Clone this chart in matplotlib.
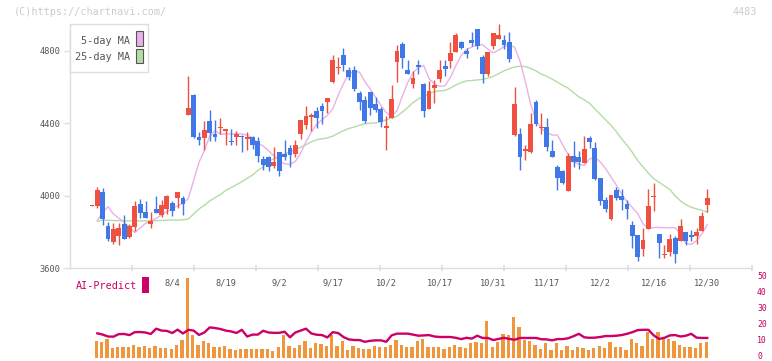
import matplotlib
matplotlib.use("Agg")
import matplotlib.pyplot as plt
from matplotlib.patches import Rectangle
import numpy as np

# ---------------- data ----------------
date_labels = ["8/4", "8/19", "9/2", "9/17", "10/2", "10/17", "10/31", "11/17", "12/2", "12/16", "12/30"]
date_label_idx = [15, 25, 35, 45, 55, 65, 75, 85, 95, 105, 115]

opens = [3946, 3946, 4021, 3834, 3745, 3778, 3845, 3775, 3830, 3955,
         3911, 3846, 3927, 3896, 3929, 3961, 3990, 3988, 4448, 4559,
         4325, 4320, 4413, 4342, 4375, 4362, 4303, 4323, 4331, 4316,
         4327, 4305, 4203, 4215, 4167, 4242, 4231, 4264, 4231, 4340,
         4393, 4437, 4470, 4496, 4520, 4629, 4705, 4778, 4695, 4695,
         4568, 4529, 4574, 4506, 4478, 4378, 4430, 4741, 4839, 4695,
         4618, 4721, 4618, 4478, 4596, 4645, 4717, 4745, 4794, 4850,
         4800, 4861, 4922, 4767, 4671, 4828, 4868, 4861, 4850, 4336,
         4342, 4250, 4242, 4518, 4377, 4380, 4248, 4161, 4139, 4027,
         4220, 4216, 4183, 4321, 4263, 4098, 3977, 3874, 4032, 3999,
         3955, 3839, 3784, 3708, 3815, 3996, 3789, 3675, 3692, 3767,
         3753, 3800, 3784, 3778, 3808, 3949]
highs = [3949, 4050, 4043, 3854, 3850, 3848, 3894, 3847, 3972, 3983,
         3972, 3912, 3999, 3977, 4005, 3972, 4021, 3999, 4662, 4564,
         4353, 4413, 4474, 4419, 4432, 4370, 4368, 4358, 4335, 4353,
         4330, 4323, 4220, 4218, 4272, 4245, 4308, 4281, 4308, 4419,
         4495, 4456, 4489, 4514, 4539, 4778, 4765, 4815, 4713, 4717,
         4581, 4551, 4576, 4544, 4493, 4441, 4612, 4833, 4848, 4750,
         4690, 4750, 4623, 4634, 4640, 4750, 4750, 4848, 4899, 4855,
         4817, 4905, 4922, 4778, 4794, 4899, 4949, 4888, 4905, 4601,
         4375, 4281, 4458, 4529, 4458, 4430, 4308, 4170, 4142, 4235,
         4302, 4250, 4330, 4332, 4297, 4100, 3995, 4005, 4047, 4036,
         3977, 3863, 3786, 3825, 4039, 4071, 3792, 3729, 3788, 3778,
         3872, 3802, 3812, 3824, 3909, 4039]
lows = [3946, 3933, 3841, 3751, 3734, 3730, 3762, 3770, 3806, 3880,
        3878, 3824, 3903, 3886, 3900, 3891, 3935, 3896, 4448, 4320,
        4283, 4253, 4305, 4305, 4342, 4281, 4281, 4281, 4244, 4253,
        4261, 4189, 4143, 4139, 4156, 4111, 4198, 4161, 4216, 4316,
        4371, 4358, 4376, 4397, 4459, 4625, 4673, 4691, 4640, 4577,
        4476, 4404, 4447, 4461, 4382, 4253, 4430, 4630, 4708, 4675,
        4596, 4671, 4437, 4478, 4514, 4629, 4664, 4708, 4794, 4812,
        4760, 4828, 4811, 4622, 4662, 4811, 4868, 4811, 4739, 4329,
        4143, 4198, 4237, 4386, 4342, 4248, 4216, 4032, 4065, 4025,
        4161, 4150, 4179, 4263, 4087, 3951, 3913, 3867, 3977, 3922,
        3874, 3710, 3642, 3668, 3815, 3918, 3655, 3659, 3668, 3628,
        3753, 3726, 3751, 3734, 3808, 3913]
closes = [3949, 4032, 3874, 3762, 3817, 3823, 3764, 3834, 3946, 3905,
          3878, 3861, 3905, 3949, 3999, 3918, 4021, 3955, 4487, 4325,
          4308, 4364, 4349, 4323, 4380, 4366, 4299, 4342, 4323, 4327,
          4279, 4222, 4172, 4161, 4187, 4139, 4216, 4227, 4279, 4419,
          4439, 4446, 4432, 4470, 4539, 4750, 4710, 4724, 4655, 4592,
          4520, 4415, 4487, 4474, 4410, 4383, 4535, 4800, 4763, 4675,
          4651, 4713, 4470, 4579, 4612, 4695, 4702, 4791, 4888, 4817,
          4783, 4844, 4829, 4673, 4794, 4899, 4888, 4835, 4756, 4507,
          4216, 4256, 4397, 4397, 4381, 4270, 4216, 4100, 4072, 4220,
          4189, 4189, 4259, 4297, 4093, 3973, 3929, 4005, 3986, 3977,
          3929, 3780, 3664, 3756, 3943, 4001, 3741, 3679, 3762, 3681,
          3834, 3753, 3775, 3800, 3889, 3988]

nan = float("nan")
ma5 = [nan,
       3865, 3910, 3940, 3900, 3877, 3855, 3825, 3798, 3823, 3848,
       3862, 3875, 3896, 3913, 3930, 3945, 3959, 3985, 4085, 4185,
       4250, 4330, 4360, 4340, 4342, 4342, 4342, 4342, 4335, 4320,
       4292, 4275, 4248, 4222, 4193, 4177, 4174, 4190, 4235, 4300,
       4352, 4395, 4420, 4445, 4480, 4555, 4620, 4672, 4690, 4683,
       4632, 4590, 4543, 4500, 4460, 4440, 4470, 4550, 4625, 4680,
       4708, 4720, 4648, 4618, 4604, 4608, 4655, 4718, 4775, 4808,
       4822, 4832, 4835, 4810, 4790, 4805, 4825, 4833, 4820, 4745,
       4630, 4505, 4418, 4372, 4350, 4336, 4336, 4280, 4228, 4188,
       4175, 4168, 4203, 4213, 4188, 4150, 4105, 4060, 4010, 3968,
       3936, 3902, 3845, 3821, 3825, 3826, 3824, 3824, 3824, 3790,
       3737, 3732, 3752, 3790, 3841]
ma25 = [nan,
        3860, 3866, 3865, 3864, 3863, 3862, 3862, 3862, 3862, 3862,
        3862, 3863, 3864, 3866, 3867, 3866, 3868, 3872, 3900, 3928,
        3948, 3972, 3990, 4007, 4030, 4045, 4062, 4078, 4097, 4115,
        4140, 4160, 4190, 4205, 4220, 4230, 4245, 4255, 4268, 4283,
        4298, 4310, 4315, 4320, 4330, 4345, 4360, 4372, 4380, 4390,
        4398, 4401, 4403, 4410, 4420, 4430, 4440, 4462, 4488, 4515,
        4535, 4550, 4565, 4575, 4580, 4583, 4595, 4612, 4625, 4635,
        4637, 4640, 4643, 4650, 4660, 4675, 4690, 4702, 4712, 4716,
        4714, 4704, 4690, 4672, 4660, 4645, 4628, 4610, 4595, 4570,
        4547, 4530, 4512, 4480, 4450, 4420, 4390, 4355, 4315, 4280,
        4240, 4195, 4160, 4125, 4095, 4075, 4055, 4035, 4000, 3972,
        3952, 3937, 3928, 3920, 3910]
volume = [nan,
          10.5, 9.9, 11.8, 6.1, 6.6, 6.6, 6.6, 7.8, 6.6, 7.2,
          5.9, 7.2, 5.9, 5.9, 5.3, 7.8, 10.9, 49.7, 14.1, 7.8,
          10.3, 9.1, 6.6, 6.6, 7.2, 5.3, 4.7, 5.3, 5.3, 5.3,
          5.3, 5.3, 5.3, 4.1, 6.6, 14.1, 7.2, 5.9, 7.8, 10.3,
          5.9, 9.1, 8.5, 7.2, 14.1, 7.2, 10.3, 4.7, 7.2, 5.9,
          5.3, 5.3, 7.2, 6.6, 6.6, 8.1, 10.9, 7.8, 7.0, 7.0,
          10.3, 11.5, 6.6, 6.6, 6.6, 5.3, 6.6, 7.8, 6.6, 5.9,
          9.1, 9.7, 9.1, 23.1, 6.6, 9.7, 14.7, 14.3, 25.4, 19.1,
          10.9, 10.3, 7.8, 5.3, 9.1, 4.7, 9.1, 4.7, 7.2, 4.7,
          6.6, 5.9, 4.7, 5.9, 7.2, 5.9, 9.7, 6.6, 6.6, 4.7,
          12.0, 9.1, 7.2, 16.0, 11.5, 16.0, 12.0, 12.0, 10.3, 7.8,
          6.6, 6.6, 5.9, 9.1, 9.7]
ai_predict = [nan,
              15.3, 14.5, 13.3, 13.2, 14.8, 14.9, 14.2, 16.0, 16.1, 15.8,
              14.9, 18.2, 17.0, 16.8, 15.5, 17.6, 15.2, 17.5, 17.0, 14.3,
              15.8, 19.0, 18.6, 18.0, 17.0, 16.5, 15.5, 17.5, 13.3, 14.5,
              14.5, 16.9, 15.8, 15.6, 15.6, 16.3, 12.8, 15.8, 17.0, 18.2,
              15.2, 14.4, 14.2, 12.7, 16.0, 15.5, 13.0, 11.5, 11.1, 11.1,
              10.0, 10.6, 10.9, 10.9, 10.0, 14.0, 15.1, 15.1, 15.1, 14.5,
              13.8, 14.0, 14.2, 13.3, 13.0, 13.0, 13.0, 12.5, 11.7, 12.5,
              12.0, 13.8, 12.4, 12.4, 11.1, 11.8, 12.5, 11.8, 11.3, 12.4,
              12.4, 12.4, 12.4, 11.6, 11.5, 10.9, 11.7, 11.7, 12.2, 13.5,
              15.0, 12.8, 12.5, 12.6, 13.0, 13.6, 13.6, 13.8, 14.2, 15.0,
              16.0, 17.3, 17.5, 17.5, 14.0, 11.8, 12.5, 14.0, 14.2, 13.3,
              13.8, 15.0, 12.6, 12.4, 12.4]
price_ticks = [3600, 4000, 4400, 4800]
ai_ticks = [0, 10, 20, 30, 40, 50]

# ---------------- styling ----------------
W, H, DPI = 772, 361, 100
UP, DOWN = "#F05040", "#4078E8"
MA5_C, MA25_C = "#E8B2E8", "#B4DCA6"
VOL_C, AI_C = "#F0963C", "#CC0066"
AXC, TXT = "#DDDDDD", "#555555"
MONO = "DejaVu Sans Mono"

def fx(px):
    return px / W

def fy(py):
    return 1 - py / H

fig = plt.figure(figsize=(W / DPI, H / DPI), dpi=DPI)
fig.patch.set_facecolor("white")

# price panel pixel geometry
L, R = 70, 752
TOP, BOT = 24, 268.3
px_per_yen = (268.3 - 51) / 1200.0
ax = fig.add_axes([fx(L), fy(BOT), fx(R) - fx(L), fy(TOP) - fy(BOT)])
ymax = 4800 + (51 - TOP) / px_per_yen
ax.set_ylim(3600, ymax)
step = 5.35
x_first = 92
xlim = ((L - x_first) / step, (R - x_first) / step)
ax.set_xlim(*xlim)

idx = np.arange(len(opens))
o = np.array(opens, float); c = np.array(closes, float)
h = np.array(highs, float); lo = np.array(lows, float)
cols = [UP if cc >= oo else DOWN for oo, cc in zip(o, c)]

ax.plot(idx, ma25, color=MA25_C, lw=1.0, zorder=2)
ax.plot(idx, ma5, color=MA5_C, lw=1.0, zorder=2)

ax.vlines(idx, lo, h, colors=cols, lw=1.0, zorder=3, clip_on=False)
minh = 1.2 / px_per_yen
body = np.abs(c - o)
hb = np.maximum(body, minh)
bottom = np.minimum(o, c) - (hb - body) / 2
ax.bar(idx, hb, bottom=bottom, width=0.9, color=cols, lw=0, zorder=4, clip_on=False)

for s in ["top", "right"]:
    ax.spines[s].set_visible(False)
for s in ["left", "bottom"]:
    ax.spines[s].set_color(AXC)
    ax.spines[s].set_linewidth(1.0)
ax.set_yticks(price_ticks)
ax.set_yticklabels([str(t) for t in price_ticks], fontfamily=MONO)
ax.tick_params(axis="y", length=4, color=AXC, width=1, labelsize=6.2, labelcolor=TXT, pad=3)

major = np.linspace(xlim[0], xlim[1], 12)[1:]
ax.set_xticks(major)
ax.set_xticklabels([])
ax.tick_params(axis="x", which="major", length=5, color=AXC, width=1.2, direction="inout")
ax.set_xticks(date_label_idx, minor=True)
ax.set_xticklabels(date_labels, minor=True, fontfamily=MONO)
ax.tick_params(axis="x", which="minor", length=0, labelsize=6.2, labelcolor=TXT, pad=7.5)
ax.set_facecolor("none")

# AI-Predict panel
ZERO_Y, FIFTY_Y = 357.8, 277.8
unit_px = (ZERO_Y - FIFTY_Y) / 50.0
ax2 = fig.add_axes([fx(L), fy(ZERO_Y), fx(R) - fx(L), fy(FIFTY_Y) - fy(ZERO_Y)])
ax2.set_xlim(*xlim)
ax2.set_ylim(0, 50)
ax2.set_facecolor("none")
for s in ax2.spines.values():
    s.set_visible(False)
ax2.bar(idx - 0.2, volume, width=0.62, color=VOL_C, lw=0, zorder=2)
ax2.plot(idx, ai_predict, color=AI_C, lw=1.7, zorder=3)
ax2.set_xticks([])
ax2.set_yticks([])
# right-hand scale labels, nudged up a little so "0" stays inside the canvas
for t in ai_ticks:
    fig.text(fx(757), fy(ZERO_Y - t * unit_px - 1.2), str(t), ha="left", va="center",
             fontsize=5.9, fontfamily=MONO, color="#C00060")

# legend box (drawn in figure pixels)
fig.add_artist(Rectangle((fx(70.3), fy(71.5)), fx(148) - fx(70.3), fy(24) - fy(71.5),
                         transform=fig.transFigure, facecolor="white", edgecolor=AXC, lw=1.0, zorder=5))
for label, col, yc, (y0, y1) in [("5-day MA", MA5_C, 40.5, (31, 46)),
                                 ("25-day MA", MA25_C, 57.2, (48.7, 63.3))]:
    fig.text(fx(130), fy(yc), label, ha="right", va="center", fontsize=7.3,
             fontfamily=MONO, color=TXT, zorder=6)
    fig.add_artist(Rectangle((fx(136), fy(y1)), fx(142.7) - fx(136), fy(y0) - fy(y1),
                             transform=fig.transFigure, facecolor=col, edgecolor=TXT, lw=0.8, zorder=6))

fig.text(fx(14), fy(12), "(C)https://chartnavi.com/", ha="left", va="center",
         fontsize=7.3, fontfamily=MONO, color="#CCCCCC")
fig.text(fx(757), fy(12), "4483", ha="right", va="center",
         fontsize=7.3, fontfamily=MONO, color="#CCCCCC")
fig.text(fx(76), fy(286), "AI-Predict", ha="left", va="center",
         fontsize=7.3, fontfamily=MONO, color=AI_C)
fig.add_artist(Rectangle((fx(142.3), fy(292.7)), fx(148.7) - fx(142.3), fy(277.3) - fy(292.7),
                         transform=fig.transFigure, facecolor=AI_C, lw=0, zorder=6))

fig.savefig("out.png", dpi=DPI, facecolor="white")
